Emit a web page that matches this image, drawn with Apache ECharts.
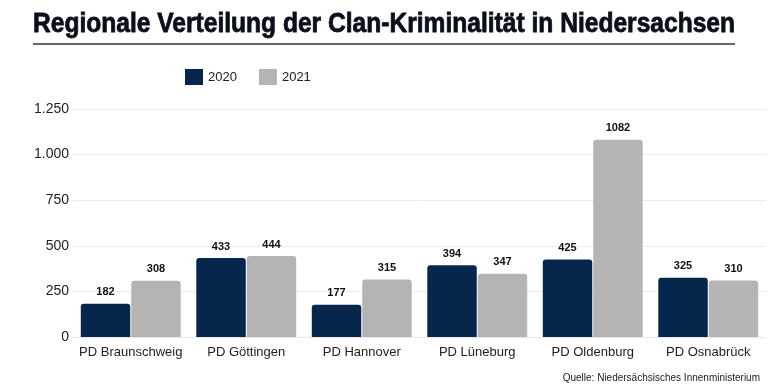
<!DOCTYPE html>
<html><head><meta charset="utf-8">
<script src="https://cdn.jsdelivr.net/npm/echarts@6/dist/echarts.min.js"></script>
<style>html,body{margin:0;padding:0;background:#fff}#c{width:780px;height:390px}</style>
</head><body><div id="c"></div>
<script>
const categories = ['PD Braunschweig','PD Göttingen','PD Hannover','PD Lüneburg','PD Oldenburg','PD Osnabrück'];
const values2020 = [182, 433, 177, 394, 425, 325];
const values2021 = [308, 444, 315, 347, 1082, 310];
const seriesNames = ['2020','2021'];
const yTicks = [0, 250, 500, 750, 1000, 1250];

const fmt = v => String(v).replace(/\B(?=(\d{3})+(?!\d))/g, '.');
const titleText = 'Regionale Verteilung der Clan-Kriminalität in Niedersachsen';
const titleFont = 'bold 28px "Liberation Sans"';
const cv = document.createElement('canvas').getContext('2d');
cv.font = titleFont;
const titleW = cv.measureText(titleText).width;
const targetW = 702;
const sx = targetW / titleW;

const chart = echarts.init(document.getElementById('c'), null, {renderer:'canvas'});
const colors = ['#06264b', '#b4b4b4'];
chart.setOption({
  animation:false,
  color: colors,
  graphic: [
    {type:'text', x:33, y:10, scaleX:sx, scaleY:1,
     style:{text:titleText, font:titleFont, fill:'#0a0f1a', stroke:'#0a0f1a', lineWidth:0.8}},
    {type:'line', shape:{x1:33,y1:44,x2:735,y2:44}, style:{stroke:'#666', lineWidth:2}},
    {type:'text', right:20, top:373, style:{text:'Quelle: Niedersächsisches Innenministerium', fontFamily:'Liberation Sans', fontSize:10, fill:'#222'}}
  ],
  legend: {
    left: 180, top: 64, itemWidth:18, itemHeight:16, itemGap:22,
    icon:'rect',
    textStyle:{fontFamily:'Liberation Sans', fontSize:13, color:'#222'},
    data: seriesNames
  },
  grid: {left:73, right:14, top:109, bottom:53, containLabel:false},
  xAxis: {
    type:'category', data:categories,
    axisLine:{show:true, lineStyle:{color:'#e6e6e6'}},
    axisTick:{show:false},
    axisLabel:{interval:0, fontFamily:'Liberation Sans', fontSize:13, color:'#222', margin:9}
  },
  yAxis: {
    type:'value', min:0, max:1250, interval:250,
    axisLine:{show:false}, axisTick:{show:false},
    splitLine:{lineStyle:{color:'#ececec'}},
    axisLabel:{fontFamily:'Liberation Sans', fontSize:14, color:'#222', margin:4, formatter: v => fmt(v)}
  },
  series: [
    {name:seriesNames[0], type:'bar', data:values2020, barGap:'2%', barCategoryGap:'13.5%',
     itemStyle:{borderRadius:[3,3,0,0]},
     label:{show:true, position:'top', distance:6, fontFamily:'Liberation Sans', fontWeight:'bold', fontSize:11, color:'#111'}},
    {name:seriesNames[1], type:'bar', data:values2021,
     itemStyle:{borderRadius:[3,3,0,0]},
     label:{show:true, position:'top', distance:6, fontFamily:'Liberation Sans', fontWeight:'bold', fontSize:11, color:'#111'}}
  ]
});
</script></body></html>
